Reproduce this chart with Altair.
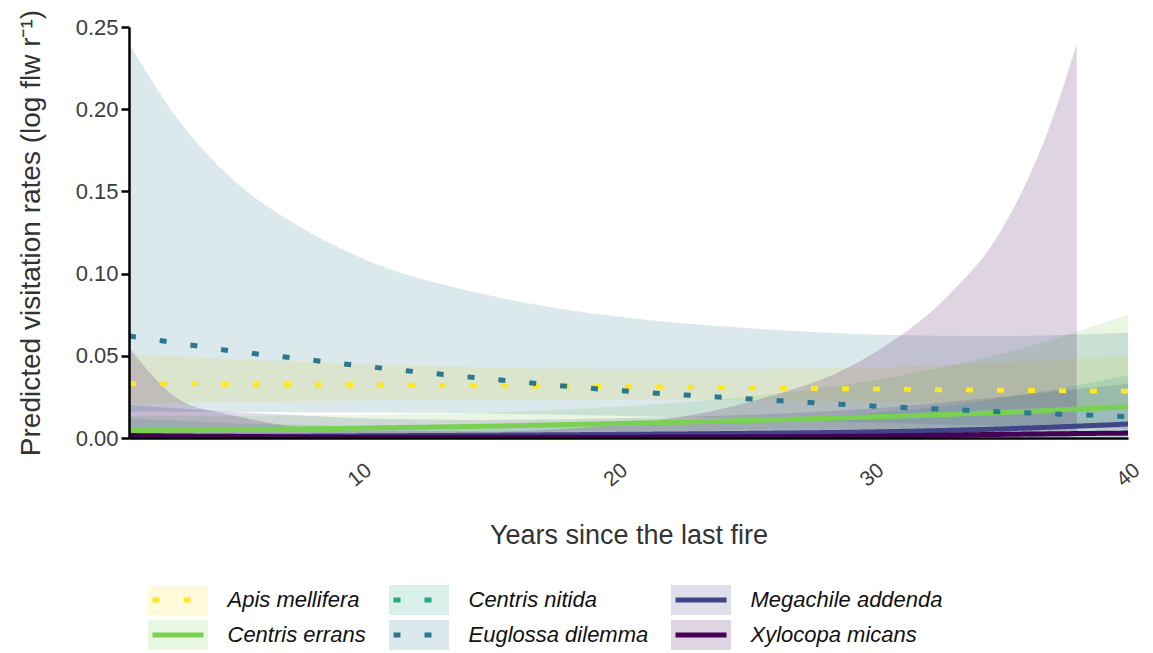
import altair as alt
import pandas as pd

# ---------------- data ----------------
X = [1, 3, 5, 7.5, 10, 15, 20, 25, 30, 35, 40]

SPECIES = ["Apis mellifera", "Centris errans", "Centris nitida",
           "Euglossa dilemma", "Megachile addenda", "Xylocopa micans"]
COLORS = ["#FDE725", "#7AD151", "#22A884", "#2A788E", "#414487", "#440154"]
DOTTED = [True, False, True, True, False, False]

# legend is filled row by row: (Apis, C. nitida, Megachile) / (C. errans, Euglossa, Xylocopa)
LEGEND_ORDER = ["Apis mellifera", "Centris nitida", "Megachile addenda",
                "Centris errans", "Euglossa dilemma", "Xylocopa micans"]

apis_fit = [0.033, 0.033, 0.0327, 0.0325, 0.0323, 0.0318, 0.0313, 0.0305, 0.0298, 0.029, 0.0285]
apis_lo = [0.021, 0.0215, 0.022, 0.0225, 0.023, 0.0235, 0.0235, 0.023, 0.022, 0.020, 0.018]
apis_hi = [0.051, 0.0495, 0.048, 0.0465, 0.045, 0.043, 0.042, 0.042, 0.043, 0.046, 0.050]

errans_fit = [0.0045, 0.0048, 0.0051, 0.0055, 0.006, 0.0072, 0.0088, 0.0106, 0.0128, 0.0155, 0.019]
errans_lo = [0.0012, 0.0014, 0.0017, 0.0021, 0.0025, 0.0034, 0.0043, 0.0050, 0.0055, 0.0058, 0.006]
errans_hi = [0.0135, 0.0135, 0.0135, 0.0137, 0.014, 0.0155, 0.019, 0.025, 0.035, 0.051, 0.075]

nitida_fit = [0.0005, 0.00055, 0.0006, 0.00065, 0.0007, 0.0009, 0.0011, 0.0014, 0.0018, 0.0023, 0.003]
nitida_lo = [0.0, 0.0, 0.0, 0.0001, 0.0001, 0.0001, 0.0002, 0.0003, 0.0003, 0.0004, 0.0004]
nitida_hi = [0.012, 0.0105, 0.009, 0.008, 0.007, 0.0065, 0.0075, 0.010, 0.015, 0.024, 0.038]

eug_fit = [0.062, 0.0575, 0.053, 0.0485, 0.044, 0.036, 0.029, 0.024, 0.0195, 0.016, 0.013]
eug_lo = [0.016, 0.0159, 0.0158, 0.0157, 0.0155, 0.015, 0.0135, 0.0115, 0.0095, 0.0075, 0.0055]
eug_hi = [0.24, 0.192, 0.158, 0.13, 0.11, 0.087, 0.074, 0.067, 0.063, 0.062, 0.064]

mega_fit = [0.0008, 0.0009, 0.001, 0.0011, 0.0013, 0.0017, 0.0022, 0.0028, 0.0037, 0.0055, 0.0085]
mega_lo = [0.0001, 0.0001, 0.0001, 0.0002, 0.0002, 0.0003, 0.0004, 0.0005, 0.0006, 0.0007, 0.0008]
mega_hi = [0.020, 0.018, 0.016, 0.014, 0.012, 0.011, 0.012, 0.014, 0.018, 0.025, 0.033]

xylo_fit = [0.0015, 0.0012, 0.001, 0.0007, 0.0005, 0.0004, 0.0005, 0.0007, 0.0012, 0.0022, 0.003]
# ribbon of Xylocopa is cut where it leaves the 0-0.25 range
XYLO_RIBBON_X = [1, 3, 5, 7.5, 10, 15, 20, 25, 30, 33, 35, 37, 38]
xylo_lo = [0.0002, 0.0001, 0.0001, 0.0001, 0.0001, 0.0001, 0.0001, 0.0001, 0.0002, 0.0003, 0.0004, 0.0005, 0.0005]
xylo_hi = [0.055, 0.023, 0.014, 0.0068, 0.0045, 0.004, 0.008, 0.021, 0.051, 0.087, 0.125, 0.192, 0.24]

Y_TICKS = [0.0, 0.05, 0.10, 0.15, 0.20, 0.25]
X_TICKS = [10, 20, 30, 40]

# ---------------- tables ----------------
fits = [apis_fit, errans_fit, nitida_fit, eug_fit, mega_fit, xylo_fit]
los = [apis_lo, errans_lo, nitida_lo, eug_lo, mega_lo, xylo_lo]
his = [apis_hi, errans_hi, nitida_hi, eug_hi, mega_hi, xylo_hi]
ribbon_xs = [X, X, X, X, X, XYLO_RIBBON_X]

line_rows, rib_rows = [], []
for i, sp in enumerate(SPECIES):
    for x, f in zip(X, fits[i]):
        line_rows.append({"sp": sp, "x": x, "fit": f})
    for x, lo, hi in zip(ribbon_xs[i], los[i], his[i]):
        rib_rows.append({"sp": sp, "x": x, "lo": lo, "hi": hi, "ord": LEGEND_ORDER.index(sp)})
line_df = pd.DataFrame(line_rows)
rib_df = pd.DataFrame(rib_rows)

color_of = dict(zip(SPECIES, COLORS))
dash_of = {sp: ([7, 24] if d else [1, 0]) for sp, d in zip(SPECIES, DOTTED)}
legend_colors = [color_of[s] for s in LEGEND_ORDER]
legend_dashes = [dash_of[s] for s in LEGEND_ORDER]

FONT = "Liberation Sans"
YTITLE = "Predicted visitation rates (log flw  r\u207b\u00b9)"
XTITLE = "Years since the last fire"

x_scale = alt.Scale(domain=[1, 40], nice=False, zero=False)
y_scale = alt.Scale(domain=[0, 0.25], nice=False)

x_axis = alt.Axis(values=X_TICKS, labelAngle=-40, labelAlign="center", labelBaseline="middle",
                  labelPadding=37, tickSize=0, grid=False, domainColor="black", domainWidth=2.5,
                  labelFont=FONT, labelFontSize=21, labelColor="#3d3d3d",
                  titleFont=FONT, titleFontSize=27, titleFontWeight="normal", titleColor="#333333",
                  titleY=84, titleBaseline="top", zindex=1)
y_axis = alt.Axis(values=Y_TICKS, format=".2f", tickSize=8, tickWidth=2.5, tickColor="black",
                  grid=False, domainColor="black", domainWidth=2.5, labelPadding=3,
                  labelFont=FONT, labelFontSize=22, labelColor="#3d3d3d",
                  titleFont=FONT, titleFontSize=28, titleFontWeight="normal", titleColor="#333333",
                  titleX=-90, titleBaseline="alphabetic", zindex=1)

common_legend = dict(orient="none", legendX=16.5, legendY=558, direction="horizontal", columns=3,
                     columnPadding=20, rowPadding=5, clipHeight=30, symbolSize=3600,
                     symbolStrokeWidth=5, symbolOffset=0, labelFont=FONT, labelFontSize=22,
                     labelFontStyle="italic", labelColor="#111111", labelOffset=17, labelLimit=400,
                     padding=0, title=None)

fill_legend = alt.Legend(symbolType="M-1,-0.5H1V0.5H-1Z", symbolOpacity=0.17,
                         symbolStrokeColor="transparent", labelOpacity=0, **common_legend)
stroke_legend = alt.Legend(symbolType="M-0.85,0H0.85", symbolFillColor="transparent",
                           **common_legend)

ribbons = alt.Chart(rib_df).mark_area(opacity=0.17, interpolate="monotone", clip=True).encode(
    x=alt.X("x:Q", scale=x_scale, axis=x_axis, title=XTITLE),
    y=alt.Y("lo:Q", scale=y_scale, axis=y_axis, title=YTITLE),
    y2="hi:Q",
    fill=alt.Fill("sp:N", sort=alt.EncodingSortField(field="ord", op="min"),
                  scale=alt.Scale(range=legend_colors), legend=fill_legend),
)

lines = alt.Chart(line_df).mark_line(strokeWidth=5, interpolate="monotone", clip=True).encode(
    x=alt.X("x:Q", scale=x_scale, axis=x_axis, title=XTITLE),
    y=alt.Y("fit:Q", scale=y_scale, axis=y_axis, title=YTITLE),
    stroke=alt.Stroke("sp:N", scale=alt.Scale(domain=LEGEND_ORDER, range=legend_colors),
                      legend=stroke_legend),
    strokeDash=alt.StrokeDash("sp:N", scale=alt.Scale(domain=LEGEND_ORDER, range=legend_dashes),
                              legend=stroke_legend),
)

chart = alt.layer(ribbons, lines).properties(
    width=999, height=411,
    autosize=alt.AutoSizeParams(type="none"),
    padding={"left": 121, "top": 19, "right": 17, "bottom": 212},
    background="white",
).configure_view(strokeWidth=0)

chart.save("out.html", embed_options={"renderer": "svg", "actions": False})
